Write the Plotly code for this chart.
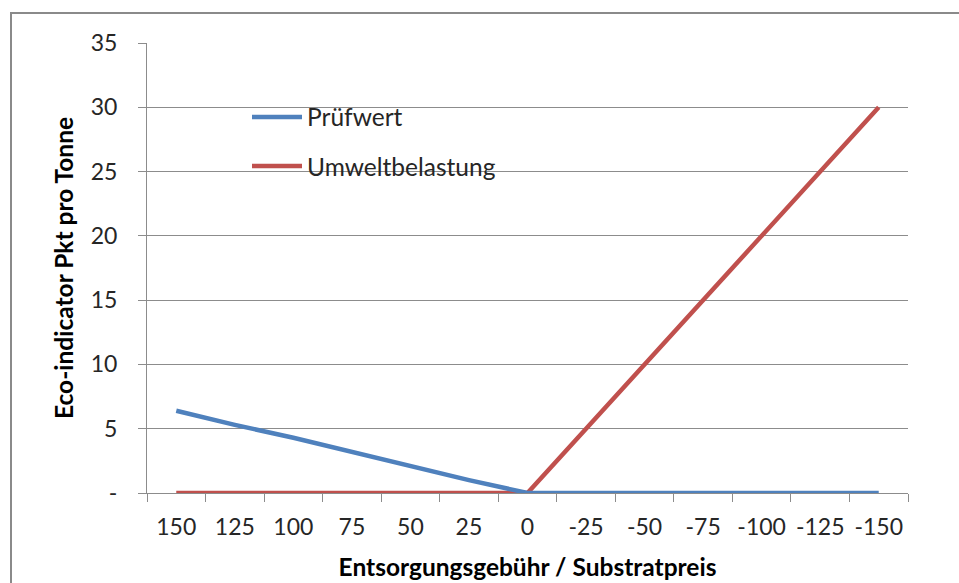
import plotly.graph_objects as go

categories = ["150", "125", "100", "75", "50", "25", "0", "-25", "-50", "-75", "-100", "-125", "-150"]
pruefwert = [6.4, 5.3, 4.3, 3.2, 2.1, 1.0, 0, 0, 0, 0, 0, 0, 0]
umwelt = [0, 0, 0, 0, 0, 0, 0, 5, 10, 15, 20, 25, 30]
series_names = ["Prüfwert", "Umweltbelastung"]
series_colors = ["#4F81BD", "#C0504D"]
y_tickvals = [0, 5, 10, 15, 20, 25, 30, 35]
y_ticktext = ["-", "5", "10", "15", "20", "25", "30", "35"]

W, H = 959, 583
L, R, T, B = 147, 51, 43, 90
pw, ph = W - L - R, H - T - B

def px_x(px):
    return (px - L) / pw

def px_y(py):
    return (H - B - py) / ph

fig = go.Figure()
# red first, blue drawn on top
fig.add_trace(go.Scatter(x=categories, y=umwelt, mode="lines", name=series_names[1],
                         line=dict(color=series_colors[1], width=4.5), showlegend=False))
fig.add_trace(go.Scatter(x=categories, y=pruefwert, mode="lines", name=series_names[0],
                         line=dict(color=series_colors[0], width=4.5), showlegend=False))

grid = "#8C8C8C"
txt = "#262626"
fig.update_layout(
    width=W, height=H,
    margin=dict(l=L, r=R, t=T, b=B, autoexpand=False),
    paper_bgcolor="white", plot_bgcolor="white",
    font=dict(family="Lato, Carlito, sans-serif", color=txt, size=23),
    showlegend=False,
    xaxis=dict(type="category", range=[-0.5, 12.5], showgrid=False, automargin=False,
               showline=True, linecolor=grid, linewidth=1,
               ticks="outside", tickson="boundaries", ticklen=8, tickcolor=grid,
               tickfont=dict(size=23, color=txt), ticklabelstandoff=13,
               title=dict(text="<b>Entsorgungsgebühr / Substratpreis</b>",
                          font=dict(size=24.5, color="#000000"), standoff=20),
               fixedrange=True),
    yaxis=dict(range=[0, 35], tickvals=y_tickvals, ticktext=y_ticktext, automargin=False,
               showgrid=True, gridcolor=grid, gridwidth=1,
               showline=True, linecolor=grid, linewidth=1,
               ticks="outside", ticklen=8, tickcolor=grid,
               tickfont=dict(size=23, color=txt), ticklabelstandoff=16,
               zeroline=False,
               title=dict(text="<b>Eco-indicator Pkt pro Tonne</b>",
                          font=dict(size=24.5, color="#000000"), standoff=10),
               fixedrange=True),
)

# manual legend (line samples + labels)
legend_y = [117, 166]
for name, color, yy in zip(series_names, series_colors, legend_y):
    fig.add_shape(type="line", xref="paper", yref="paper",
                  x0=px_x(252), x1=px_x(302), y0=px_y(yy), y1=px_y(yy),
                  line=dict(color=color, width=4.5))
    fig.add_annotation(xref="paper", yref="paper", x=px_x(305), y=px_y(yy),
                       xanchor="left", yanchor="middle", text=name, showarrow=False,
                       font=dict(size=24.5, color=txt))

# chart frame border
fig.add_shape(type="rect", xref="paper", yref="paper",
              x0=px_x(11), x1=px_x(990), y0=px_y(620), y1=px_y(13),
              line=dict(color="#8A8A8A", width=2), fillcolor="rgba(0,0,0,0)", layer="below")

fig.write_html("out.html", config={"displayModeBar": False},
               post_script="document.body.style.margin='0';document.body.style.overflow='hidden';")
